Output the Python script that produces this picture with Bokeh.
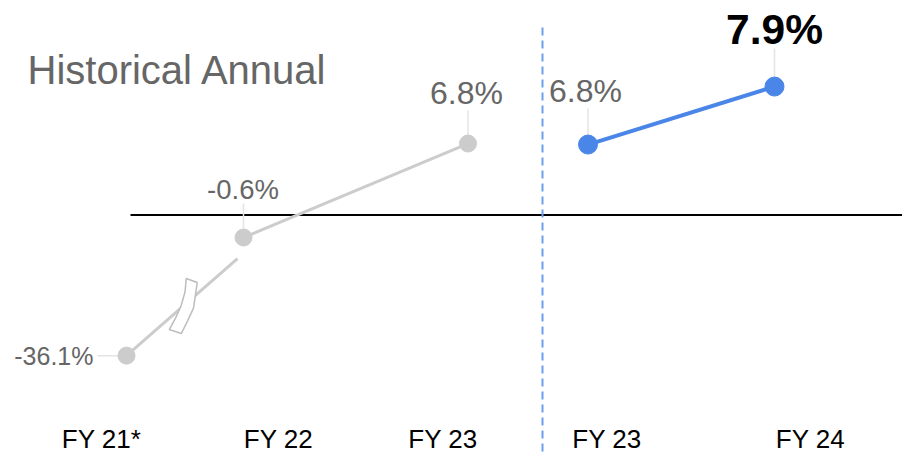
from bokeh.plotting import figure
from bokeh.models import Range1d
from bokeh.embed import file_html
from bokeh.resources import INLINE
from bokeh.core.properties import value

# ---------------- data ----------------
hist_categories = ["FY 21*", "FY 22", "FY 23"]
hist_values = [-36.1, -0.6, 6.8]
fcst_categories = ["FY 23", "FY 24"]
fcst_values = [6.8, 7.9]
title_text = "Historical Annual"

# ---------------- layout (pixel frame) ----------------
W, H = 902, 454
HIST_X = [126, 243, 467.5]          # point x positions
FCST_X = [587.5, 774]
HIST_CAT_X = [101, 278, 442.5]      # category label centres
FCST_CAT_X = [606.5, 810]
CAT_Y = 438.3
ZERO_Y = 214.5
DIVIDER_X = 542

# broken value axis of the historical panel
H_BASE, H_K, H_BREAK_BELOW, H_GAP = 229.4, 12.7, -10.0, 26.2
# zoomed value axis of the outlook panel
F_BASE, F_K = 502.4, 52.7


def hist_scale(v):
    if v < H_BREAK_BELOW:
        v = v + H_GAP
    return H_BASE - H_K * v


def fcst_scale(v):
    return F_BASE - F_K * v


def fmt(v):
    return f"{v:.1f}%"


GREY = "#cccccc"
LEADER = "#e4e4e4"
LABEL_GREY = "#666666"
BLUE = "#4a86e8"
DASH_BLUE = "#6d9eeb"
FONT = "Liberation Sans"

p = figure(width=W, height=H, x_range=Range1d(0, W), y_range=Range1d(H, 0),
           output_backend="svg", toolbar_location=None, min_border=0)
p.axis.visible = False
p.grid.visible = False
p.outline_line_color = None
p.background_fill_color = "white"
p.border_fill_color = "white"

hy = [hist_scale(v) for v in hist_values]
fy = [fcst_scale(v) for v in fcst_values]

# baseline line and divider
p.segment(x0=[130], y0=[ZERO_Y], x1=[W], y1=[ZERO_Y], line_color="black", line_width=2)
p.segment(x0=[DIVIDER_X], y0=[27], x1=[DIVIDER_X], y1=[H], line_color=DASH_BLUE,
          line_width=2, line_dash="8 5")

# leader lines
p.segment(x0=[97], y0=[hy[0]], x1=[HIST_X[0]], y1=[hy[0]], line_color=LEADER, line_width=1.5)
p.segment(x0=[HIST_X[1], HIST_X[2]], y0=[203, 110], x1=[HIST_X[1], HIST_X[2]],
          y1=[hy[1], hy[2]], line_color=LEADER, line_width=1.5)
p.segment(x0=FCST_X, y0=[108, 48], x1=FCST_X, y1=fy, line_color=LEADER, line_width=1.5)

# historical connector (FY21 -> FY22 is broken, stops short of FY22)
GAP_DX, GAP_DY = -6, 21
ex, ey = HIST_X[1] + GAP_DX, hy[1] + GAP_DY
p.segment(x0=[HIST_X[0]], y0=[hy[0]], x1=[ex], y1=[ey], line_color=GREY, line_width=3)
p.line(HIST_X[1:], hy[1:], line_color=GREY, line_width=3)

# axis-break symbol centred on the connector
cx = HIST_X[0] + 0.5 * (ex - HIST_X[0]) + 1.5
cy = hy[0] + 0.5 * (ey - hy[0]) - 1
off_x = [2.75, 1.5, -2.5, -8.5, -14.25, -2.25, 3.5, 9.5, 13.75]
off_y = [-27.5, -14, 0, 12, 23.5, 27.5, 16, 2, -23.5]
bx = [cx + o for o in off_x]
by = [cy + o for o in off_y]
bx[3] += 0.5
bx[7] += 0.5
p.patch(bx, by, fill_color="white", line_color="#bdbdbd", line_width=1.5)

# outlook line
p.line(FCST_X, fy, line_color=BLUE, line_width=4)

# points
p.scatter(HIST_X, hy, size=17, fill_color=GREY, line_color=GREY)
p.scatter(FCST_X, fy, size=19, fill_color=BLUE, line_color=BLUE)

# value labels (y = vertical centre of the digits)
p.text(x=[HIST_X[0] - 33], y=[hy[0]], text=[fmt(hist_values[0])],
       text_font=value(FONT), text_font_size="25px", text_color=LABEL_GREY,
       text_align="right", text_baseline="middle")
p.text(x=[HIST_X[1] - 0.5], y=[hy[1] - 48], text=[fmt(hist_values[1])],
       text_font=value(FONT), text_font_size="27.5px", text_color=LABEL_GREY,
       text_align="center", text_baseline="middle")
p.text(x=[HIST_X[2] - 1.5], y=[hy[2] - 50.8], text=[fmt(hist_values[2])],
       text_font=value(FONT), text_font_size="32px", text_color=LABEL_GREY,
       text_align="center", text_baseline="middle")
p.text(x=[FCST_X[0] - 2.5], y=[fy[0] - 53.8], text=[fmt(fcst_values[0])],
       text_font=value(FONT), text_font_size="32px", text_color=LABEL_GREY,
       text_align="center", text_baseline="middle")
p.text(x=[FCST_X[1]], y=[fy[1] - 57], text=[fmt(fcst_values[1])],
       text_font=value(FONT), text_font_size="42.5px", text_font_style="bold",
       text_color="black", text_align="center", text_baseline="middle")

# category labels
p.text(x=HIST_CAT_X + FCST_CAT_X, y=[CAT_Y] * 5, text=hist_categories + fcst_categories,
       text_font=value(FONT), text_font_size="26px", text_color="black",
       text_align="center", text_baseline="middle")

# title
p.text(x=[27], y=[69.5], text=[title_text], text_font=value(FONT), text_font_size="40px",
       text_color=LABEL_GREY, text_align="left", text_baseline="middle")

open("out.html", "w").write(file_html(p, INLINE))
